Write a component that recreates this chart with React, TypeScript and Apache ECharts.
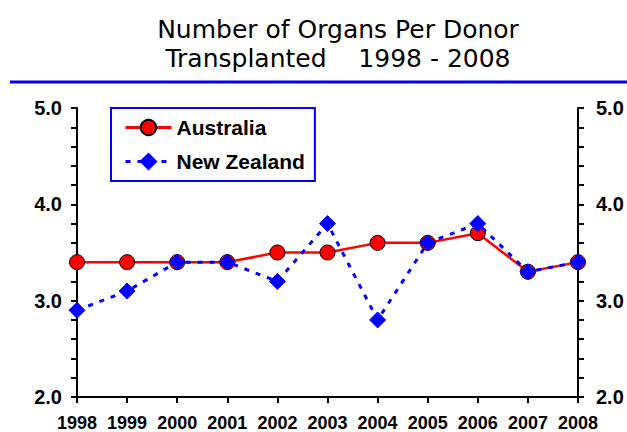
import React, { useEffect, useRef } from "react";
import * as echarts from "echarts";

const years = ["1998", "1999", "2000", "2001", "2002", "2003", "2004", "2005", "2006", "2007", "2008"];
const australia = [3.4, 3.4, 3.4, 3.4, 3.5, 3.5, 3.6, 3.6, 3.7, 3.3, 3.4];
const newZealand = [2.9, 3.1, 3.4, 3.4, 3.2, 3.8, 2.8, 3.6, 3.8, 3.3, 3.4];
const titleLines = ["Number of Organs Per Donor", "Transplanted    1998 - 2008"];

const LABEL_FONT = "'Liberation Sans', Arial, sans-serif";

export default function App() {
  const ref = useRef<HTMLDivElement>(null);
  useEffect(() => {
    if (!ref.current) return;
    const chart = echarts.init(ref.current, null, { renderer: "svg" });
    const yAxisCommon = {
      type: "value",
      min: 2,
      max: 5,
      interval: 1,
      splitLine: { show: false },
      axisLine: { show: true, lineStyle: { color: "#000", width: 2 } },
      axisTick: { show: true, length: 6, lineStyle: { color: "#000", width: 2 } },
      minorTick: { show: true, splitNumber: 5, length: 6, lineStyle: { color: "#000", width: 2 } },
      axisLabel: {
        color: "#000",
        fontSize: 20,
        fontWeight: "bold",
        fontFamily: LABEL_FONT,
        formatter: (v: number) => v.toFixed(1),
      },
    };
    chart.setOption({
      animation: false,
      backgroundColor: "#fff",
      title: {
        text: titleLines.join("\n"),
        left: 333,
        top: 10,
        textAlign: "center",
        textStyle: {
          fontFamily: "'DejaVu Sans', Verdana, sans-serif",
          fontWeight: "normal",
          fontSize: 25,
          lineHeight: 29,
          color: "#000",
        },
      },
      graphic: [
        {
          type: "line",
          shape: { x1: 10, y1: 82, x2: 627, y2: 82 },
          style: { stroke: "#0000FF", lineWidth: 3 },
        },
      ],
      legend: {
        orient: "vertical",
        left: 111,
        top: 108,
        padding: [9, 10, 9, 13],
        itemWidth: 46,
        itemHeight: 19,
        itemGap: 13,
        borderColor: "#0000FF",
        borderWidth: 2,
        backgroundColor: "#fff",
        textStyle: {
          color: "#000",
          fontSize: 21,
          fontWeight: "bold",
          fontFamily: LABEL_FONT,
        },
        lineStyle: { width: 3 },
        data: ["Australia", "New Zealand"],
      },
      grid: { left: 77, right: 49, top: 108, bottom: 35, containLabel: false },
      xAxis: {
        type: "category",
        data: years,
        boundaryGap: false,
        axisLine: { show: true, lineStyle: { color: "#000", width: 2 } },
        axisTick: { show: true, length: 6, alignWithLabel: true, lineStyle: { color: "#000", width: 2 } },
        axisLabel: {
          color: "#000",
          fontSize: 18,
          fontWeight: "bold",
          fontFamily: LABEL_FONT,
          margin: 17,
          interval: 0,
        },
        splitLine: { show: false },
      },
      yAxis: [
        { ...yAxisCommon, position: "left", axisLabel: { ...yAxisCommon.axisLabel, margin: 15 } },
        { ...yAxisCommon, position: "right", axisLabel: { ...yAxisCommon.axisLabel, margin: 18 } },
      ],
      series: [
        {
          name: "Australia",
          type: "line",
          data: australia,
          symbol: "circle",
          symbolSize: 15,
          lineStyle: { color: "#FF0000", width: 2.5 },
          itemStyle: { color: "#FF0000", borderColor: "#000", borderWidth: 1 },
          z: 2,
        },
        {
          name: "New Zealand",
          type: "line",
          data: newZealand,
          symbol: "diamond",
          symbolSize: 16,
          lineStyle: { color: "#0000FF", width: 3, type: [5, 7] },
          itemStyle: { color: "#0000FF", borderColor: "#0000FF", borderWidth: 1 },
          z: 3,
        },
      ],
    });
    return () => chart.dispose();
  }, []);
  return <div ref={ref} style={{ width: 627, height: 432, position: "absolute", left: 0, top: 0 }} />;
}
